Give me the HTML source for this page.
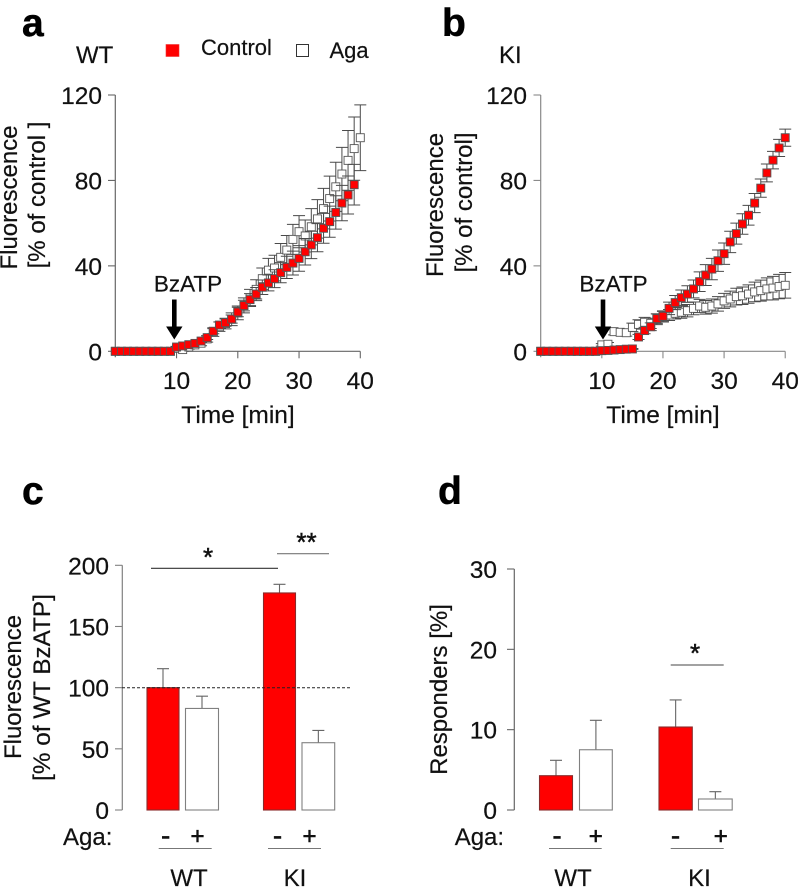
<!DOCTYPE html>
<html lang="en">
<head>
<meta charset="utf-8">
<title>Fluorescence and responders panels</title>
<style>
html,body{margin:0;padding:0;background:#fff;width:799px;height:887px;overflow:hidden}
svg{display:block}
text{font-family:"Liberation Sans",Arial,sans-serif;fill:#111;stroke:#111;stroke-width:0.2px;font-size:24px}
.letter{font-weight:bold;font-size:39px;fill:#000;stroke:#000;stroke-width:0.5px}
.star{font-size:26px;stroke-width:0.5px}
.minus{font-size:28px;stroke-width:0.5px}
.plus{font-size:24px;stroke-width:0.6px}
</style>
</head>
<body>
<svg id="fig" width="799" height="887" viewBox="0 0 799 887" xmlns="http://www.w3.org/2000/svg">
  <text class="letter" x="22" y="36">a</text>
  <text class="letter" x="442" y="36">b</text>
  <text class="letter" x="22" y="504">c</text>
  <text class="letter" x="438" y="504">d</text>

  <text x="76" y="63">WT</text>
  <text x="499" y="63">KI</text>

  <g>
    <rect x="166" y="44.5" width="13" height="12" fill="#f00" stroke="#e33" stroke-width="0.6"/>
    <text x="201" y="55" style="font-size:22px">Control</text>
    <rect x="296.5" y="44.5" width="12" height="12" fill="#fff" stroke="#333" stroke-width="1"/>
    <text x="329.5" y="58" style="font-size:22px">Aga</text>
  </g>

  <text transform="translate(17,197.5) rotate(-90)" text-anchor="middle">Fluorescence</text>
  <text transform="translate(45,195) rotate(-90)" text-anchor="middle">[% of control ]</text>
  <text transform="translate(443,205) rotate(-90)" text-anchor="middle">Fluorescence</text>
  <text transform="translate(472,202.5) rotate(-90)" text-anchor="middle">[% of control]</text>
  <text x="238" y="423" text-anchor="middle" style="font-size:24.5px">Time [min]</text>
  <text x="663" y="423" text-anchor="middle" style="font-size:24.5px">Time [min]</text>

  <text transform="translate(21,687) rotate(-90)" text-anchor="middle">Fluorescence</text>
  <text transform="translate(50,687.5) rotate(-90)" text-anchor="middle" style="font-size:24.3px">[% of WT BzATP]</text>
  <text transform="translate(447,689.5) rotate(-90)" text-anchor="middle">Responders [%]</text>

  <g id="plots"></g>

  <g>
    <text x="188" y="291.5" text-anchor="middle" style="font-size:22.5px">BzATP</text>
    <path d="M172 299.5h4.6v27h5.9l-8.2 13-8.2-13h5.9z" fill="#000"/>
  </g>
  <g>
    <text x="613.5" y="291.5" text-anchor="middle" style="font-size:22.5px">BzATP</text>
    <path d="M600.7 299.5h4.6v27h5.9l-8.2 13-8.2-13h5.9z" fill="#000"/>
  </g>

  <g>
    <line x1="122" y1="687.7" x2="350" y2="687.7" stroke="#222" stroke-width="1" stroke-dasharray="3 2"/>
    <line x1="151" y1="568.3" x2="278" y2="568.3" stroke="#333" stroke-width="1.1"/>
    <line x1="277" y1="553.7" x2="329" y2="553.7" stroke="#777" stroke-width="1.1"/>
    <text class="star" x="208" y="566" text-anchor="middle">*</text>
    <text class="star" x="306.5" y="551" text-anchor="middle">**</text>
    <text x="63" y="845">Aga:</text>
    <text class="minus" x="165.7" y="845" text-anchor="middle">-</text>
    <text class="plus" x="197.5" y="844" text-anchor="middle">+</text>
    <text class="minus" x="277.5" y="845" text-anchor="middle">-</text>
    <text class="plus" x="309.5" y="844" text-anchor="middle">+</text>
    <line x1="158.7" y1="848.5" x2="211.7" y2="848.5" stroke="#777" stroke-width="1.1"/>
    <line x1="268" y1="848.5" x2="321" y2="848.5" stroke="#777" stroke-width="1.1"/>
    <text x="189" y="886" text-anchor="middle">WT</text>
    <text x="295" y="886" text-anchor="middle">KI</text>
  </g>

  <g>
    <line x1="670.7" y1="665" x2="723.7" y2="665" stroke="#444" stroke-width="1.1"/>
    <text class="star" x="695" y="662" text-anchor="middle">*</text>
    <text x="454.7" y="845">Aga:</text>
    <text class="minus" x="557" y="845" text-anchor="middle">-</text>
    <text class="plus" x="595.7" y="844" text-anchor="middle">+</text>
    <text class="minus" x="675.5" y="845" text-anchor="middle">-</text>
    <text class="plus" x="720.7" y="844" text-anchor="middle">+</text>
    <line x1="549" y1="848.5" x2="601.7" y2="848.5" stroke="#777" stroke-width="1.1"/>
    <line x1="670.7" y1="848.5" x2="723.7" y2="848.5" stroke="#777" stroke-width="1.1"/>
    <text x="573" y="886" text-anchor="middle">WT</text>
    <text x="699.5" y="886" text-anchor="middle">KI</text>
  </g>
</svg>
<script>
var timeTicks = [10, 20, 30, 40];
var fluorTicks = [0, 40, 80, 120];

var aControl    = [0,0,0,0,0,0,0,0,0,0,2,2.5,3.1,3.7,4.8,6.4,9.4,12.3,13.4,15.1,18.4,21.4,24.2,26.8,30,32,34,36.8,39.3,41.3,43.5,46.6,49.8,53.2,57.6,60.7,65,69.4,73.2,78];
var aControlErr = [0,0,0,0,0,0,0,0,0,0,0.3,0.4,0.5,0.6,0.7,0.9,1.2,1.5,1.7,1.9,2.2,2.5,2.8,3.1,3.4,3.7,4.2,4.7,5.2,5.6,6,6.2,6.4,6.6,7,7.3,7.8,8.3,8.9,9.5];
var aAga        = [0,0,0,0,0,0,0,0,0,0,1.4,0.8,2,3,3.8,5.8,9,11.5,13,15,18,21.5,25,29,34,38,39,44,47.4,52.4,56,54,58.3,62,66.8,71.5,77,83,89.4,94.9,100];
var aAgaErr     = [0,0,0,0,0,0,0,0,0,0,0.8,0.8,1,1,1.2,1.5,2,2.2,2.5,3,3.2,3.5,4,4.5,5,5.5,6,6.5,6.8,7,7.5,7.5,8.5,9,9.5,10.5,11.5,12.5,14,14.8,15.4];

var bControl    = [0,0,0,0,0,0,0,0,0,0,0.3,0.4,0.6,0.8,1,1.1,6.7,9.7,11.5,15.3,16.4,20.1,22.8,25.1,26.8,29.2,32.6,35.7,38.5,42.4,45.7,51.2,55.1,59.6,63.7,69.4,76.4,83.5,89.5,95.2,100];
var bControlErr = [0,0,0,0,0,0,0,0,0,0,0.1,0.1,0.1,0.2,0.2,0.2,1.2,1.5,1.8,2.2,2.5,2.9,3.3,3.6,3.9,4.2,4.6,4.9,5,5,5,5,4.9,4.8,4.6,4.5,4.3,4.2,4.1,4,4];
var bAga        = [0,0,0,0,0,0,0,0,0,0,3,3.3,9.2,8.9,8.7,11.2,12.6,13.6,13.1,15,16.2,17,17.8,18.3,19,20.1,21.2,20.6,21.2,22.2,23.6,24.5,25.6,26,26.8,27.8,28.4,29.2,29.6,30.3,30.9];
var bAgaErr     = [0,0,0,0,0,0,0,0,0,0,0.6,0.8,1.5,1.5,1.6,2,2.2,2.3,2.4,2.5,2.5,2.6,2.7,2.8,2.9,3,3.1,3.2,3.3,3.4,3.5,3.7,3.9,4.1,4.3,4.6,4.9,5.2,5.5,5.7,6];

var cTicks  = [0, 50, 100, 150, 200];
var cValues = [100, 83, 177.4, 55];
var cTops   = [115.5, 93, 184.5, 65];

var dTicks  = [0, 10, 20, 30];
var dValues = [4.27, 7.5, 10.33, 1.37];
var dTops   = [6.18, 11.16, 13.7, 2.28];

var NS = 'http://www.w3.org/2000/svg';
var plots = document.getElementById('plots');

function mk(tag, attrs, parent) {
  var el = document.createElementNS(NS, tag);
  for (var k in attrs) el.setAttribute(k, attrs[k]);
  (parent || plots).appendChild(el);
  return el;
}

function drawAxes(prefix, xFn, yFn, xTicks, yTicks, tickLeft, labelRight, color) {
  var yTop = yFn(yTicks[yTicks.length - 1]);
  var yZero = yFn(0);
  var ax = mk('line', {x1: xFn(0), y1: yTop, x2: xFn(0), y2: yZero + (xTicks ? 6 : 0), stroke: color, 'stroke-width': 1.2});
  
  
  yTicks.forEach(function (v) {
    var t = mk('line', {x1: tickLeft, y1: yFn(v), x2: xFn(0), y2: yFn(v), stroke: color, 'stroke-width': 1.1});
    
    
    var l = mk('text', {x: labelRight + 1, y: yFn(v) + 9, 'text-anchor': 'end', style: 'font-size:24.5px'});
    l.textContent = v;
    
    
  });
  if (xTicks) {
    var xa = mk('line', {x1: xFn(0), y1: yZero, x2: xFn(xTicks[xTicks.length - 1]), y2: yZero, stroke: color, 'stroke-width': 1.2});
    
    
    xTicks.forEach(function (v) {
      var t = mk('line', {x1: xFn(v), y1: yZero, x2: xFn(v), y2: yZero + 7, stroke: color, 'stroke-width': 1.1});
      
      
      var l = mk('text', {x: xFn(v), y: 389, 'text-anchor': 'middle', style: 'font-size:24.5px'});
      l.textContent = v;
      
      
    });
  }
}

function drawSeries(prefix, values, errs, xFn, yFn, fill) {
  values.forEach(function (v, i) {
    if (errs[i] > 0) {
      var e = mk('path', {
        d: 'M' + xFn(i) + ' ' + yFn(v + errs[i]) + 'V' + yFn(v - errs[i]) +
           'M' + (xFn(i) - 6) + ' ' + yFn(v + errs[i]) + 'H' + (xFn(i) + 6) +
           'M' + (xFn(i) - 6) + ' ' + yFn(v - errs[i]) + 'H' + (xFn(i) + 6),
        fill: 'none', stroke: '#4a4a4a', 'stroke-width': 1
      });
      
      
    }
  });
  values.forEach(function (v, i) {
    var m = mk('rect', {x: xFn(i) - 4, y: yFn(v) - 4, width: 8, height: 8, fill: fill, stroke: '#555', 'stroke-width': 0.9});
    
    
  });
}

function drawBars(prefix, values, tops, lefts, widths, yFn) {
  values.forEach(function (v, i) {
    var cx = lefts[i] + widths[i] / 2;
    var e = mk('path', {
      d: 'M' + cx + ' ' + yFn(v) + 'V' + yFn(tops[i]) + 'M' + (cx - 6) + ' ' + yFn(tops[i]) + 'H' + (cx + 6),
      fill: 'none', stroke: '#666', 'stroke-width': 1.1
    });
    
    
    var red = i % 2 === 0;
    var b = mk('rect', {
      x: lefts[i], y: yFn(v), width: widths[i], height: yFn(0) - yFn(v),
      fill: red ? '#f00' : '#fff', stroke: red ? '#8a2a2a' : '#808080', 'stroke-width': 1.1
    });
    
    
  });
}

function xA(t) { return 115.3 + 6.125 * t; }
function xB(t) { return 540.7 + 6.113 * t; }
function yTime(v) { return 351.3 - v * 256.3 / 120; }
function yC(v) { return 810 - v * 244.7 / 200; }
function yD(v) { return 810 - v * 241 / 30; }
function xCAxis() { return 122.3; }
function xDAxis() { return 514.3; }

drawAxes('panel-a', xA, yTime, timeTicks, fluorTicks, 108, 101, '#666');
drawSeries('panel-a-aga', aAga, aAgaErr, xA, yTime, '#fff');
drawSeries('panel-a-control', aControl, aControlErr, xA, yTime, '#f00');

drawAxes('panel-b', xB, yTime, timeTicks, fluorTicks, 533.5, 526, '#888');
drawSeries('panel-b-aga', bAga, bAgaErr, xB, yTime, '#fff');
drawSeries('panel-b-control', bControl, bControlErr, xB, yTime, '#f00');

drawAxes('panel-c', xCAxis, yC, null, cTicks, 115, 108, '#808080');
drawBars('panel-c', cValues, cTops, [147, 185.5, 263.5, 302], [32, 33, 32, 32.7], yC);

drawAxes('panel-d', xDAxis, yD, null, dTicks, 507, 496, '#666');
drawBars('panel-d', dValues, dTops, [539.5, 579.5, 659, 698.5], [33, 32.8, 33.3, 33.7], yD);
</script>
</body>
</html>
